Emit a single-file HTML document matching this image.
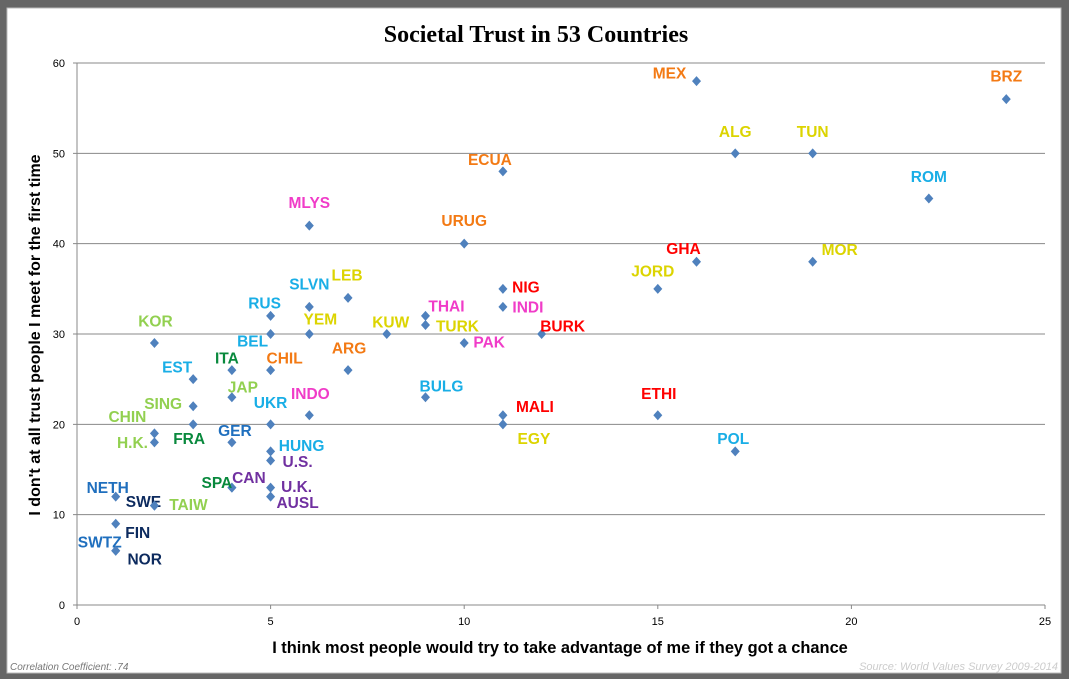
<!DOCTYPE html>
<html><head><meta charset="utf-8"><style>
body{margin:0;width:1069px;height:679px;background:#666;overflow:hidden}
svg{display:block}
.lbl{font-family:"Liberation Sans",sans-serif;font-weight:bold;font-size:15.5px}
</style></head><body>
<svg id="chart" width="1069" height="679">
<rect x="7" y="8" width="1054" height="665" fill="#fff" stroke="#bbb"/>
<text x="536" y="42" text-anchor="middle" font-family="'Liberation Serif',serif" font-weight="bold" font-size="24">Societal Trust in 53 Countries</text>
<g id="grid"></g>
<g id="ticks"></g>
<g id="pts"></g>
<text transform="translate(40,335) rotate(-90)" text-anchor="middle" font-family="'Liberation Sans',sans-serif" font-weight="bold" font-size="16">I don't at all trust people I meet for the first time</text>
<text x="560" y="653" text-anchor="middle" font-family="'Liberation Sans',sans-serif" font-weight="bold" font-size="16.4">I think most people would try to take advantage of me if they got a chance</text>
<text x="10" y="670" font-family="'Liberation Sans',sans-serif" font-style="italic" font-size="10" fill="#777">Correlation Coefficient: .74</text>
<text x="1058" y="670" text-anchor="end" font-family="'Liberation Sans',sans-serif" font-style="italic" font-size="11" fill="#ccc">Source: World Values Survey 2009-2014</text>
</svg>
<script>
const countries=["MEX","BRZ","ALG","TUN","ECUA","ROM","MLYS","URUG","GHA","MOR","JORD","NIG","LEB","SLVN","INDI","RUS","THAI","TURK","KUW","YEM","BURK","BEL","KOR","PAK","ARG","CHIL","ITA","EST","JAP","BULG","SING","INDO","MALI","ETHI","UKR","FRA","EGY","CHIN","H.K.","GER","HUNG","POL","U.S.","CAN","SPA","U.K.","AUSL","NETH","SWE","TAIW","FIN","SWTZ","NOR"];
const advantage=[16,24,17,19,11,22,6,10,16,19,15,11,7,6,11,5,9,9,8,6,12,5,2,10,7,5,4,3,4,9,3,6,11,15,5,3,11,2,2,4,5,17,5,4,4,5,5,1,2,2,1,1,1];
const distrust=[58,56,50,50,48,45,42,40,38,38,35,35,34,33,33,32,32,31,30,30,30,30,29,29,26,26,26,25,23,23,22,21,21,21,20,20,20,19,18,18,17,17,16,13,13,13,12,12,11,11,9,6,6];
const xTicks=[0,5,10,15,20,25];
const yTicks=[0,10,20,30,40,50,60];
const C={o:"#f37a14",y:"#dcd400",c:"#19aee6",m:"#f03cc8",r:"#ff0000",g:"#92d050",d:"#09893d",b:"#1f6fbe",n:"#0c2a5e",p:"#7030a0"};
const colorKeys=["o","o","y","y","o","c","m","o","r","y","y","r","y","c","m","c","m","y","y","y","r","c","g","m","o","o","d","c","g","c","g","m","r","r","c","d","y","g","g","b","c","c","p","p","d","p","p","b","n","g","n","b","n"];
const offs=[[-27,-8],[0,-23],[0,-22],[0,-22],[-13,-12],[0,-22],[0,-23],[0,-23],[-13,-13],[27,-12],[-5,-18],[23,-2],[-1,-23],[0,-23],[25,0],[-6,-13],[21,-10],[32,1],[4,-12],[11,-15],[21,-8],[-18,7],[1,-22],[25,-1],[1,-22],[14,-12],[-5,-12],[-16,-12],[11,-10],[16,-11],[-30,-3],[1,-22],[32,-9],[1,-22],[0,-22],[-4,14],[31,14],[-27,-17],[-22,0],[3,-12],[31,-6],[-2,-13],[27,1],[17,-10],[-15,-5],[26,-1],[27,6],[-8,-9],[-11,-4],[34,-1],[22,9],[-16,-9],[29,8]];
const X=v=>77+v*(1045-77)/25, Y=v=>605-v*(605-63)/60;
const NS="http://www.w3.org/2000/svg";
function mk(t,a,p){const e=document.createElementNS(NS,t);for(const k in a)e.setAttribute(k,a[k]);p.appendChild(e);return e;}
const grid=document.getElementById('grid'),ticks=document.getElementById('ticks'),pts=document.getElementById('pts');
yTicks.forEach(v=>{
 if(v>0){const l=mk('line',{x1:X(0)-4,x2:X(25),y1:Y(v),y2:Y(v),stroke:'#888','stroke-width':1},grid);
 
 }
 const t=mk('text',{x:X(0)-12,y:Y(v)+4,'text-anchor':'end','font-family':'Liberation Sans,sans-serif','font-size':11},ticks);t.textContent=v;
 
 
});
mk('line',{x1:X(0),x2:X(0),y1:Y(60),y2:Y(0),stroke:'#888'},grid);
mk('line',{x1:X(0)-4,x2:X(25),y1:Y(0),y2:Y(0),stroke:'#888'},grid);
xTicks.forEach(v=>{
 mk('line',{x1:X(v),x2:X(v),y1:Y(0),y2:Y(0)+4,stroke:'#888'},grid);
 const t=mk('text',{x:X(v),y:Y(0)+20,'text-anchor':'middle','font-family':'Liberation Sans,sans-serif','font-size':11},ticks);t.textContent=v;
 
 
});
countries.forEach((c,i)=>{
 const x=X(advantage[i]),y=Y(distrust[i]);
 const d=mk('path',{d:`M${x} ${y-5}L${x+4.5} ${y}L${x} ${y+5}L${x-4.5} ${y}Z`,fill:'#4f81bd'},pts);
 
 
 const t=mk('text',{x:x+offs[i][0],y:y+offs[i][1]+5.5,'text-anchor':'middle',class:'lbl',fill:C[colorKeys[i]]},pts);t.textContent=c;
 
 
});
</script>
</body></html>
